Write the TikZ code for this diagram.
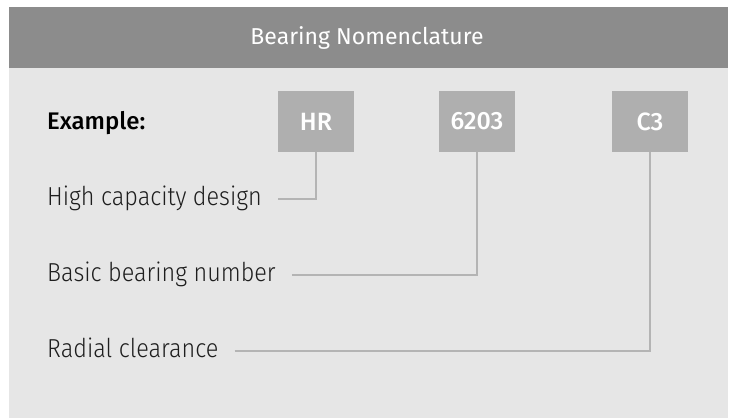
\documentclass[tikz,border=0pt]{standalone}
\usepackage{fontspec}
\setmainfont{Fira Sans Light}[FakeStretch=0.9]
\newfontfamily\titlefont{Fira Sans}
\newfontfamily\labelfont{Fira Sans Medium}
\usetikzlibrary{positioning}

\definecolor{headgray}{HTML}{8C8C8C}
\definecolor{panelgray}{HTML}{E6E6E6}
\definecolor{boxgray}{HTML}{AFAFAF}
\definecolor{linegray}{HTML}{B4B4B4}
\definecolor{inkgray}{HTML}{1E1E1E}

\tikzset{
	codebox/.style = {fill = boxgray, minimum width = 76pt, minimum height = 61pt, inner sep = 0pt, text = white, font = \labelfont\fontsize{25}{30}\selectfont},
	desc/.style = {anchor = base west, inner sep = 0pt, text height = 13pt, text depth = 0pt, text = inkgray, font = \fontsize{26}{31}\selectfont},
	conn/.style = {draw = linegray, line width = 2pt}
}

\begin{document}
\begin{tikzpicture}[x = 1pt, y = -1pt]
	
		\useasboundingbox (0, 0) rectangle (733, 418);
		\fill[panelgray] (8.5, 7) rectangle (727.5, 418);
		\fill[headgray] (8.5, 7) rectangle (727.5, 68);
		\node[text = white, font = \titlefont\fontsize{23}{27}\selectfont] (title) at (367, 37.5) {Bearing Nomenclature};
		
		\node[desc, text = black, font = \labelfont\fontsize{24}{28}\selectfont] (example) at (47, 129) {Example:};
		\node[codebox] (hr) at (316, 121.5) {HR};
		\node[codebox] (num) at (477, 121.5) {6203};
		\node[codebox] (clr) at (650, 121.5) {C3};
		
		\node[desc] (capdesc) at (47, 205) {High capacity design};
		\node[desc] (numdesc) at (47, 281) {Basic bearing number};
		\node[desc] (clrdesc) at (47, 357) {Radial clearance};
		
		\draw[conn] ([xshift = 16pt]capdesc.east) -| (hr.south);
		\draw[conn] ([xshift = 16pt]numdesc.east) -| (num.south);
		\draw[conn] ([xshift = 16pt]clrdesc.east) -| (clr.south);
		
	\end{tikzpicture}
\end{document}
